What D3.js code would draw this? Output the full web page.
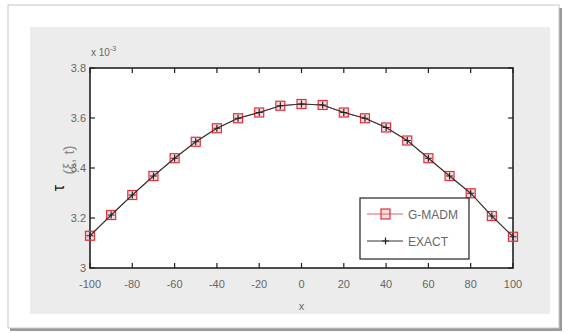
<!DOCTYPE html>
<html>
<head>
<meta charset="utf-8">
<script src="https://cdn.jsdelivr.net/npm/d3@7"></script>
<style>
  body { margin: 0; background: #fff; }
  svg { display: block; font-family: "Liberation Sans", Arial, sans-serif; }
</style>
</head>
<body>
<div id="chart"></div>
<script>
// data (values in units of 1e-3)
const xs = [-100, -90, -80, -70, -60, -50, -40, -30, -20, -10, 0, 10, 20, 30, 40, 50, 60, 70, 80, 90, 100];
const gmadm = [3.129, 3.212, 3.292, 3.368, 3.439, 3.505, 3.559, 3.599, 3.622, 3.649, 3.656, 3.652, 3.622, 3.599, 3.562, 3.510, 3.439, 3.368, 3.299, 3.208, 3.125];
const exact = [3.129, 3.212, 3.292, 3.368, 3.439, 3.505, 3.559, 3.599, 3.622, 3.649, 3.656, 3.652, 3.622, 3.599, 3.562, 3.510, 3.439, 3.368, 3.299, 3.208, 3.125];
const xTicks = [-100, -80, -60, -40, -20, 0, 20, 40, 60, 80, 100];
const yTicks = [3, 3.2, 3.4, 3.6, 3.8];
const yTickLabels = ['3', '3.2', '3.4', '3.6', '3.8'];
const legendNames = ['G-MADM', 'EXACT'];

const W = 571, H = 333;
const svg = d3.select('#chart').append('svg')
  .attr('width', W).attr('height', H);

// outer frame with a little shadow
svg.append('rect').attr('x', 10).attr('y', 8).attr('width', 552).attr('height', 323)
  .attr('fill', '#999');
svg.append('rect').attr('x', 8).attr('y', 5).attr('width', 551).attr('height', 323)
  .attr('fill', '#fff').attr('stroke', '#c8c8c8');

// figure gray
svg.append('rect').attr('x', 30).attr('y', 27).attr('width', 520).attr('height', 287)
  .attr('fill', '#ececec');

const plot = { left: 90, right: 513, top: 68, bottom: 268 };

const x = d3.scaleLinear().domain([-100, 100]).range([plot.left, plot.right]);
const y = d3.scaleLinear().domain([3, 3.8]).range([plot.bottom, plot.top]);

svg.append('rect')
  .attr('x', plot.left).attr('y', plot.top)
  .attr('width', plot.right - plot.left).attr('height', plot.bottom - plot.top)
  .attr('fill', '#fff');

const tickLen = 5;
const ax = svg.append('g').attr('stroke', '#222').attr('stroke-width', 1.2);

// ticks inward on all four sides
xTicks.forEach(t => {
  ax.append('line').attr('x1', x(t)).attr('x2', x(t)).attr('y1', plot.bottom).attr('y2', plot.bottom - tickLen);
  ax.append('line').attr('x1', x(t)).attr('x2', x(t)).attr('y1', plot.top).attr('y2', plot.top + tickLen);
});
yTicks.forEach(t => {
  ax.append('line').attr('x1', plot.left).attr('x2', plot.left + tickLen).attr('y1', y(t)).attr('y2', y(t));
  ax.append('line').attr('x1', plot.right).attr('x2', plot.right - tickLen).attr('y1', y(t)).attr('y2', y(t));
});

ax.append('rect')
  .attr('x', plot.left).attr('y', plot.top)
  .attr('width', plot.right - plot.left).attr('height', plot.bottom - plot.top)
  .attr('fill', 'none').attr('stroke-width', 1.6);

// tick labels
const labelColor = '#666';
svg.append('g').selectAll('text').data(xTicks).join('text')
  .attr('x', d => x(d)).attr('y', plot.bottom + 20)
  .attr('text-anchor', 'middle').attr('font-size', 11).attr('fill', labelColor)
  .text(d => d);
svg.append('g').selectAll('text').data(yTicks).join('text')
  .attr('x', plot.left - 4).attr('y', d => y(d) + 4)
  .attr('text-anchor', 'end').attr('font-size', 11).attr('fill', labelColor)
  .text((d, i) => yTickLabels[i]);

// exponent
const ex = svg.append('text').attr('x', plot.left + 1).attr('y', plot.top - 12)
  .attr('font-size', 10).attr('fill', labelColor);
ex.append('tspan').text('x 10');
ex.append('tspan').attr('dy', -5).attr('font-size', 7).text('-3');

// axis labels
svg.append('text').attr('x', x(0)).attr('y', 310)
  .attr('text-anchor', 'middle').attr('font-size', 11).attr('fill', labelColor).text('x');
svg.append('text')
  .attr('transform', `translate(74,160) rotate(-90)`)
  .attr('text-anchor', 'middle').attr('font-size', 15).attr('fill', '#888')
  .text('(ξ, t)');
svg.append('text')
  .attr('transform', 'translate(64,188) rotate(-90)')
  .attr('text-anchor', 'middle').attr('font-size', 16).attr('fill', '#111').text('τ');

// series
const line = d3.line().x(d => x(d[0])).y(d => y(d[1]));
const gPts = xs.map((v, i) => [v, gmadm[i]]);
const ePts = xs.map((v, i) => [v, exact[i]]);

svg.append('path').datum(gPts).attr('d', line)
  .attr('fill', 'none').attr('stroke', '#e06060').attr('stroke-width', 1);
svg.append('g').selectAll('rect').data(gPts).join('rect')
  .attr('x', d => x(d[0]) - 4.5).attr('y', d => y(d[1]) - 4.5)
  .attr('width', 9).attr('height', 9)
  .attr('fill', 'rgba(230,120,130,0.25)').attr('stroke', '#e0303a').attr('stroke-width', 1.2);

svg.append('path').datum(ePts).attr('d', line)
  .attr('fill', 'none').attr('stroke', '#333').attr('stroke-width', 1.1);
svg.append('g').selectAll('path').data(ePts).join('path')
  .attr('d', d => `M${x(d[0]) - 3.5},${y(d[1])}H${x(d[0]) + 3.5}M${x(d[0])},${y(d[1]) - 3.5}V${y(d[1]) + 3.5}`)
  .attr('stroke', '#222').attr('stroke-width', 1.2);

// legend
const lg = svg.append('g');
lg.append('rect').attr('x', 360).attr('y', 198).attr('width', 109).attr('height', 61)
  .attr('fill', '#fff').attr('stroke', '#222').attr('stroke-width', 1.2);
const rows = [214, 241];
lg.append('line').attr('x1', 367).attr('x2', 403).attr('y1', rows[0]).attr('y2', rows[0])
  .attr('stroke', '#e06060');
lg.append('rect').attr('x', 381).attr('y', rows[0] - 5).attr('width', 9).attr('height', 10)
  .attr('fill', 'rgba(230,120,130,0.25)').attr('stroke', '#e0303a').attr('stroke-width', 1.2);
lg.append('line').attr('x1', 367).attr('x2', 403).attr('y1', rows[1]).attr('y2', rows[1])
  .attr('stroke', '#333');
lg.append('path').attr('d', `M382,${rows[1]}H389M385.5,${rows[1] - 3.5}V${rows[1] + 3.5}`)
  .attr('stroke', '#222').attr('stroke-width', 1.2);
lg.selectAll('text.lab').data(legendNames).join('text')
  .attr('class', 'lab')
  .attr('x', 408).attr('y', (d, i) => rows[i] + 5)
  .attr('font-size', 12).attr('fill', '#666')
  .text(d => d);
</script>
</body>
</html>
